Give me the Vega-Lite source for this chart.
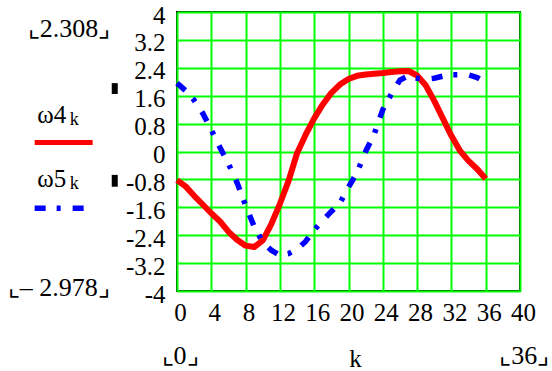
{
  "$schema": "https://vega.github.io/schema/vega-lite/v6.json",
  "width": 343,
  "height": 279,
  "autosize": {"type": "none"},
  "padding": {"left": 177, "top": 12, "right": 32, "bottom": 80},
  "config": {
    "font": "Liberation Serif",
    "view": {"stroke": "#0a1a0a", "strokeWidth": 2},
    "axis": {
      "grid": true,
      "gridColor": "#00ff00",
      "gridWidth": 2,
      "gridOpacity": 1,
      "domain": false,
      "ticks": false,
      "labelFont": "Liberation Serif",
      "labelFontSize": 25,
      "labelColor": "#000000",
      "labelFlush": false,
      "labelOverlap": false,
      "titleFont": "Liberation Serif",
      "titleFontSize": 25,
      "titleFontWeight": "normal",
      "titleColor": "#000000"
    }
  },
  "datasets": {
    "omega": [
      {"series": "w4", "k": 0, "v": -0.82}, {"series": "w4", "k": 1, "v": -1.0},
      {"series": "w4", "k": 2, "v": -1.27}, {"series": "w4", "k": 3, "v": -1.52},
      {"series": "w4", "k": 4, "v": -1.77}, {"series": "w4", "k": 5, "v": -2.0},
      {"series": "w4", "k": 6, "v": -2.3}, {"series": "w4", "k": 7, "v": -2.53},
      {"series": "w4", "k": 8, "v": -2.7}, {"series": "w4", "k": 9, "v": -2.74},
      {"series": "w4", "k": 10, "v": -2.55}, {"series": "w4", "k": 11, "v": -2.08},
      {"series": "w4", "k": 12, "v": -1.5}, {"series": "w4", "k": 13, "v": -0.85},
      {"series": "w4", "k": 14, "v": -0.05}, {"series": "w4", "k": 15, "v": 0.48},
      {"series": "w4", "k": 16, "v": 0.95}, {"series": "w4", "k": 17, "v": 1.35},
      {"series": "w4", "k": 18, "v": 1.68}, {"series": "w4", "k": 19, "v": 1.92},
      {"series": "w4", "k": 20, "v": 2.08}, {"series": "w4", "k": 21, "v": 2.17},
      {"series": "w4", "k": 22, "v": 2.21}, {"series": "w4", "k": 23, "v": 2.23},
      {"series": "w4", "k": 24, "v": 2.25}, {"series": "w4", "k": 25, "v": 2.28},
      {"series": "w4", "k": 26, "v": 2.3}, {"series": "w4", "k": 27, "v": 2.308},
      {"series": "w4", "k": 28, "v": 2.18}, {"series": "w4", "k": 29, "v": 1.9},
      {"series": "w4", "k": 30, "v": 1.45}, {"series": "w4", "k": 31, "v": 0.95},
      {"series": "w4", "k": 32, "v": 0.45}, {"series": "w4", "k": 33, "v": 0.02},
      {"series": "w4", "k": 34, "v": -0.27}, {"series": "w4", "k": 35, "v": -0.5},
      {"series": "w4", "k": 36, "v": -0.78},
      {"series": "w5", "k": 0, "v": 1.96}, {"series": "w5", "k": 1, "v": 1.75},
      {"series": "w5", "k": 2, "v": 1.47}, {"series": "w5", "k": 3, "v": 1.1},
      {"series": "w5", "k": 4, "v": 0.62}, {"series": "w5", "k": 5, "v": 0.12},
      {"series": "w5", "k": 6, "v": -0.35}, {"series": "w5", "k": 7, "v": -0.89},
      {"series": "w5", "k": 8, "v": -1.55}, {"series": "w5", "k": 9, "v": -2.15},
      {"series": "w5", "k": 10, "v": -2.6}, {"series": "w5", "k": 11, "v": -2.83},
      {"series": "w5", "k": 12, "v": -2.978}, {"series": "w5", "k": 13, "v": -2.93},
      {"series": "w5", "k": 14, "v": -2.8}, {"series": "w5", "k": 15, "v": -2.58},
      {"series": "w5", "k": 16, "v": -2.25}, {"series": "w5", "k": 17, "v": -1.98},
      {"series": "w5", "k": 18, "v": -1.72}, {"series": "w5", "k": 19, "v": -1.48},
      {"series": "w5", "k": 20, "v": -1.02}, {"series": "w5", "k": 21, "v": -0.6},
      {"series": "w5", "k": 22, "v": 0.0}, {"series": "w5", "k": 23, "v": 0.5},
      {"series": "w5", "k": 24, "v": 1.2}, {"series": "w5", "k": 25, "v": 1.65},
      {"series": "w5", "k": 26, "v": 2.05}, {"series": "w5", "k": 27, "v": 2.17},
      {"series": "w5", "k": 28, "v": 2.1}, {"series": "w5", "k": 29, "v": 2.07},
      {"series": "w5", "k": 30, "v": 2.1}, {"series": "w5", "k": 31, "v": 2.16},
      {"series": "w5", "k": 32, "v": 2.2}, {"series": "w5", "k": 33, "v": 2.2},
      {"series": "w5", "k": 34, "v": 2.2}, {"series": "w5", "k": 35, "v": 2.12},
      {"series": "w5", "k": 36, "v": 1.98}
    ],
    "legendLines": [
      {"series": "w4", "k": -16.6, "v": 0.26},
      {"series": "w4", "k": -9.84, "v": 0.26},
      {"series": "w5", "k": -16.6, "v": -1.63},
      {"series": "w5", "k": -10.8, "v": -1.63}
    ],
    "legendNames": [
      {"k": -16.3, "v": 0.82, "label": "ω4"},
      {"k": -16.3, "v": -1.02, "label": "ω5"}
    ],
    "legendSubs": [
      {"k": -12.5, "v": 0.76, "label": "k"},
      {"k": -12.5, "v": -1.08, "label": "k"}
    ],
    "limits": [
      {"k": -12.6, "v": 3.52, "label": "⌞2.308⌟"},
      {"k": -13.8, "v": -3.92, "label": "⌞– 2.978⌟"},
      {"k": 0.35, "v": -5.85, "label": "⌞0⌟"},
      {"k": 40.5, "v": -5.85, "label": "⌞36⌟"}
    ],
    "markers": [
      {"k": -7.61, "k2": -6.91, "v": 1.96, "v2": 1.65},
      {"k": -7.61, "k2": -6.91, "v": -0.67, "v2": -1.01}
    ]
  },
  "encoding": {
    "x": {
      "field": "k",
      "type": "quantitative",
      "scale": {"domain": [0, 40], "nice": false, "zero": false},
      "axis": {
        "values": [0, 4, 8, 12, 16, 20, 24, 28, 32, 36, 40],
        "labelFont": "Liberation Serif",
        "labelPadding": 9,
        "labelOffset": 3,
        "title": "k",
        "titleFont": "Liberation Serif",
        "titlePadding": 21,
        "titleX": 178
      }
    },
    "y": {
      "field": "v",
      "type": "quantitative",
      "scale": {"domain": [-4, 4], "nice": false, "zero": false},
      "axis": {
        "values": [-4, -3.2, -2.4, -1.6, -0.8, 0, 0.8, 1.6, 2.4, 3.2, 4],
        "labelExpr": "'' + datum.value",
        "labelFont": "Liberation Serif",
        "labelPadding": 12,
        "labelOffset": 3,
        "title": null
      }
    }
  },
  "layer": [
    {
      "data": {"name": "omega"},
      "transform": [{"filter": "datum.series == 'w4'"}],
      "mark": {"type": "line", "color": "#ff0000", "strokeWidth": 6, "strokeJoin": "round"}
    },
    {
      "data": {"name": "omega"},
      "transform": [{"filter": "datum.series == 'w5'"}],
      "mark": {"type": "line", "color": "#0000ff", "strokeWidth": 5.5, "strokeDash": [11, 11, 4, 12], "strokeCap": "butt"}
    },
    {
      "data": {"name": "legendLines"},
      "transform": [{"filter": "datum.series == 'w4'"}],
      "mark": {"type": "line", "color": "#ff0000", "strokeWidth": 5, "clip": false}
    },
    {
      "data": {"name": "legendLines"},
      "transform": [{"filter": "datum.series == 'w5'"}],
      "mark": {"type": "line", "color": "#0000ff", "strokeWidth": 5.5, "strokeDash": [11, 11, 4, 12], "strokeCap": "butt", "clip": false}
    },
    {
      "data": {"name": "legendNames"},
      "mark": {"type": "text", "font": "Liberation Serif", "align": "left", "baseline": "alphabetic", "fontSize": 25, "color": "#000000", "clip": false},
      "encoding": {"text": {"field": "label"}}
    },
    {
      "data": {"name": "legendSubs"},
      "mark": {"type": "text", "font": "Liberation Serif", "align": "left", "baseline": "alphabetic", "fontSize": 18, "color": "#000000", "clip": false},
      "encoding": {"text": {"field": "label"}}
    },
    {
      "data": {"name": "limits"},
      "mark": {"type": "text", "font": "Liberation Serif", "align": "center", "baseline": "middle", "fontSize": 26, "color": "#000000", "clip": false},
      "encoding": {"text": {"field": "label"}}
    },
    {
      "data": {"name": "markers"},
      "mark": {"type": "rect", "color": "#000000", "clip": false},
      "encoding": {
        "x2": {"field": "k2"},
        "y2": {"field": "v2"}
      }
    }
  ]
}
